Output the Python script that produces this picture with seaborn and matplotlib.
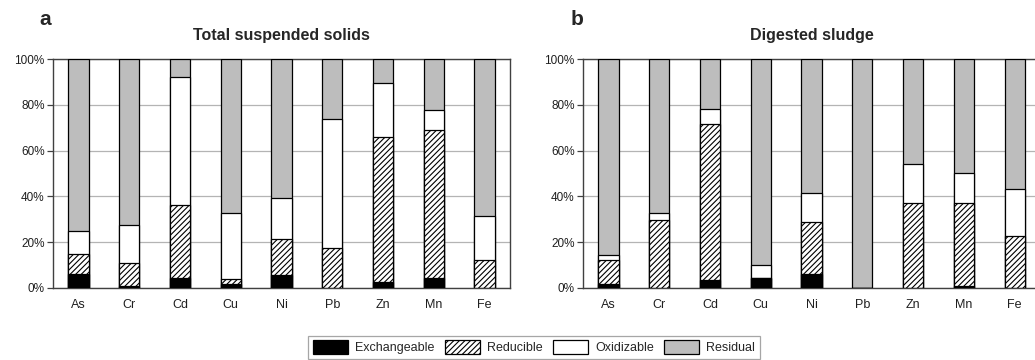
import numpy as np
import pandas as pd
import matplotlib
matplotlib.use("Agg")
import matplotlib.pyplot as plt
import seaborn as sns
from matplotlib.patches import Patch
from matplotlib.ticker import PercentFormatter

sns.set_style("white")
plt.rcParams['font.family'] = ['Liberation Sans', 'DejaVu Sans']
plt.rcParams['hatch.linewidth'] = 0.8

metals = ["As", "Cr", "Cd", "Cu", "Ni", "Pb", "Zn", "Mn", "Fe"]
fractions = ["Exchangeable", "Reducible", "Oxidizable", "Residual"]

# panel a - total suspended solids (% of total)
tss_exch = [6, 1, 4.4, 1.8, 5.8, 0, 2.5, 4.4, 0]
tss_red = [9, 10, 31.8, 2.2, 15.7, 17.5, 63.6, 64.6, 12.1]
tss_oxid = [10, 16.4, 55.8, 28.8, 17.9, 56.3, 23.6, 8.7, 19.3]
tss_res = [75, 72.6, 8, 67.2, 60.6, 26.2, 10.3, 22.3, 68.6]

# panel b - digested sludge
ds_exch = [1.9, 0, 3.6, 4.4, 6.3, 0, 0, 1, 0]
ds_red = [10.5, 29.9, 68, 0, 22.7, 0, 37.2, 36.2, 22.9]
ds_oxid = [1.8, 2.7, 6.4, 5.8, 12.6, 0, 17.1, 13.2, 20.5]
ds_res = [85.8, 67.4, 22, 89.8, 58.4, 100, 45.7, 49.6, 56.6]

styles = {
    "Exchangeable": dict(color="black", hatch=None),
    "Reducible": dict(color="white", hatch="//////"),
    "Oxidizable": dict(color="white", hatch=None),
    "Residual": dict(color="#bdbdbd", hatch=None),
}


def stacked(ax, exch, red, oxid, res, title):
    parts = [exch, red, oxid, res]
    cum = np.cumsum(np.array(parts), axis=0)
    # draw from the top fraction down so each shorter bar covers the one behind
    for k in range(3, -1, -1):
        df = pd.DataFrame({"metal": metals, "value": cum[k]})
        st = styles[fractions[k]]
        sns.barplot(data=df, x="metal", y="value", color=st["color"],
                    edgecolor="black", linewidth=0.9, width=0.4,
                    hatch=st["hatch"], saturation=1, ax=ax, zorder=3)
    ax.set_ylim(0, 100)
    ax.set_xlim(-0.5, 8.5)
    ax.set_yticks([0, 20, 40, 60, 80, 100])
    ax.yaxis.set_major_formatter(PercentFormatter(decimals=0))
    ax.grid(axis="y", color="#b4b4b4", linewidth=0.9, zorder=0)
    ax.set_axisbelow(True)
    ax.set_xlabel("")
    ax.set_ylabel("")
    ax.set_xticks(np.arange(9) + 0.5, minor=True)
    ax.tick_params(axis="x", which="major", length=0, labelsize=9, pad=8, colors="#202020")
    ax.tick_params(axis="x", which="minor", length=4, width=0.9, color="#404040", direction="out")
    ax.tick_params(axis="y", length=4, width=0.9, color="#404040", direction="out",
                   labelsize=8.5, pad=2, colors="#202020", left=True)
    for s in ax.spines.values():
        s.set_color("#404040")
        s.set_linewidth(1.0)
    ax.set_title(title, fontsize=11.5, fontweight="bold", pad=14)


fig = plt.figure(figsize=(10.35, 3.6), dpi=100)
ax1 = fig.add_axes([0.0512, 0.2, 0.4416, 0.636])
ax2 = fig.add_axes([0.5633, 0.2, 0.4416, 0.636])

stacked(ax1, tss_exch, tss_red, tss_oxid, tss_res, "Total suspended solids")
stacked(ax2, ds_exch, ds_red, ds_oxid, ds_res, "Digested sludge")

fig.text(0.038, 0.945, "a", fontsize=15, fontweight="bold", va="center")
fig.text(0.551, 0.945, "b", fontsize=15, fontweight="bold", va="center")

handles = [Patch(facecolor=styles[f]["color"], hatch=styles[f]["hatch"],
                 edgecolor="black", linewidth=0.9, label=f) for f in fractions]
leg = fig.legend(handles=handles, loc="center", bbox_to_anchor=(0.516, 0.035),
                 ncol=4, fontsize=9, frameon=True, fancybox=False,
                 handlelength=2.8, handleheight=1.3, columnspacing=0.8,
                 handletextpad=0.6, borderpad=0.35)
leg.get_frame().set_edgecolor("#909090")
leg.get_frame().set_linewidth(0.9)

fig.savefig("out.png", dpi=100)
